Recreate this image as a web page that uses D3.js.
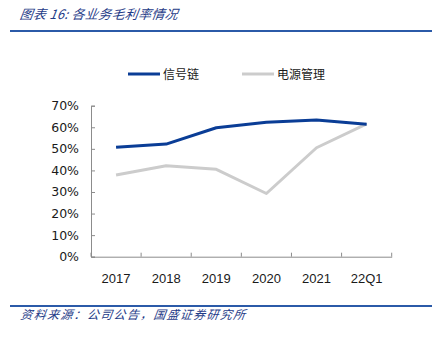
<!DOCTYPE html>
<html><head><meta charset="utf-8">
<script src="https://cdn.jsdelivr.net/npm/d3@7"></script>
<style>body{margin:0;background:#fff;}svg{display:block;}</style>
</head><body>
<svg id="c" width="437" height="337"></svg>
<script>
const categories = ["2017","2018","2019","2020","2021","22Q1"];
const signalChain = [50.7, 52.2, 59.8, 62.3, 63.4, 61.4];
const powerMgmt = [37.9, 42.2, 40.5, 29.3, 50.5, 61.6];
const yTicks = [0,10,20,30,40,50,60,70];
const seriesNames = ["信号链","电源管理"];
const title = "图表 16:  各业务毛利率情况";
const source = "资料来源：公司公告，国盛证券研究所";

const svg = d3.select("#c");
const x = d3.scaleBand().domain(categories).range([91, 391.7]);
const y = d3.scaleLinear().domain([0,70]).range([256.7, 105.7]);
const axisColor = "#8c8c8c";
const cjk = "'Noto Sans CJK SC', sans-serif";

// title
svg.append("text").attr("x", 20).attr("y", 19).text(title)
  .attr("font-family", cjk).attr("font-size", 13).attr("font-style","italic")
  .attr("letter-spacing", 0.3)
  .attr("fill", "#1f3c88").attr("transform","skewX(-8) translate(2,0)");
svg.append("line").attr("x1",10).attr("x2",432).attr("y1",31).attr("y2",31)
  .attr("stroke","#2b5aa8").attr("stroke-width",2);
svg.append("line").attr("x1",10).attr("x2",432).attr("y1",306).attr("y2",306)
  .attr("stroke","#2b5aa8").attr("stroke-width",2);
svg.append("text").attr("x", 20).attr("y", 319.5).text(source)
  .attr("font-family", cjk).attr("font-size", 12).attr("font-style","italic")
  .attr("letter-spacing", 1.3)
  .attr("fill", "#1f3c88").attr("transform","skewX(-8) translate(45,0)");

// axes
const yAxis = svg.append("g").attr("transform","translate(91,0)")
  .call(d3.axisLeft(y).tickValues(yTicks).tickSize(-4).tickPadding(12).tickFormat(d=>d+"%"));
const xAxis = svg.append("g").attr("transform","translate(0,256.7)")
  .call(d3.axisBottom(x).tickSize(0).tickPadding(17));
// band boundary ticks
const bounds = categories.map(c=>x(c)).concat([x.range()[1]]);
xAxis.selectAll(".bt").data(bounds).enter().append("line")
  .attr("x1",d=>d).attr("x2",d=>d).attr("y1",0).attr("y2",-4).attr("stroke",axisColor);
[yAxis,xAxis].forEach(g=>{
  g.select(".domain").attr("stroke",axisColor);
  g.selectAll(".tick line").attr("stroke",axisColor);
  g.selectAll("text").attr("font-family","'DejaVu Sans', Verdana, sans-serif").attr("font-size",12.5).attr("fill","#1a1a1a");
});
xAxis.selectAll(".tick text").attr("font-family","'Liberation Sans', Calibri, sans-serif").attr("font-size",13);

// lines
const colors = ["#0a3d96","#cccccc"];
const line = d3.line().x((d,i)=>x(categories[i])+x.bandwidth()/2).y(d=>y(d));
[powerMgmt, signalChain].forEach((s,k)=>{
  svg.append("path").datum(s).attr("d",line).attr("fill","none")
    .attr("stroke", k===0?colors[1]:colors[0]).attr("stroke-width",3).attr("stroke-linejoin","round");
});

// legend
const legX = [128, 242];
seriesNames.forEach((n,i)=>{
  svg.append("line").attr("x1",legX[i]).attr("x2",legX[i]+32).attr("y1",74).attr("y2",74)
    .attr("stroke",colors[i]).attr("stroke-width",3);
  svg.append("text").attr("x",legX[i]+35).attr("y",78.5).text(n)
    .attr("font-family",cjk).attr("font-size",12).attr("fill","#1a1a1a");
});
</script>
</body></html>
